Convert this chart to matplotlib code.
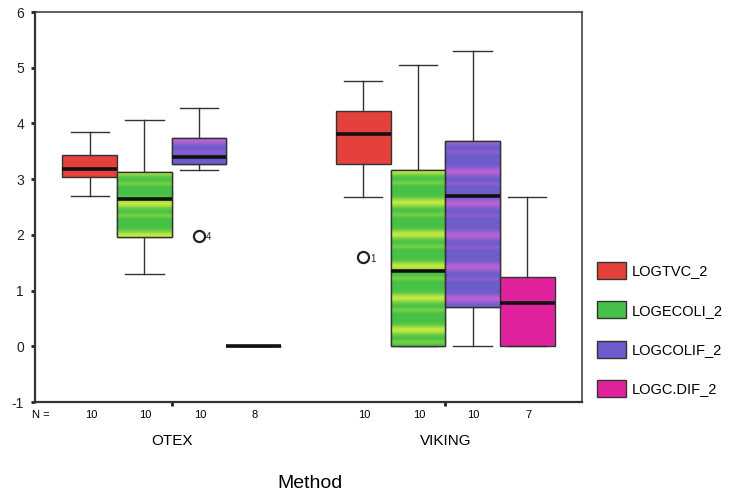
import numpy as np
import matplotlib
matplotlib.use('Agg')
import matplotlib.pyplot as plt
from matplotlib.patches import Patch
from matplotlib.colors import to_rgb

plt.rcParams['font.family'] = ['Liberation Sans', 'DejaVu Sans']
plt.rcParams['axes.unicode_minus'] = False

variables = ['LOGTVC_2', 'LOGECOLI_2', 'LOGCOLIF_2', 'LOGC.DIF_2']
methods = ['OTEX', 'VIKING']
counts = [10, 10, 10, 8, 10, 10, 10, 7]
whislo = [2.70, 1.30, 3.17, 0.0, 2.68, 0.0, 0.0, 0.0]
q1 = [3.04, 1.97, 3.28, 0.0, 3.27, 0.0, 0.71, 0.0]
med = [3.19, 2.65, 3.40, 0.0, 3.81, 1.36, 2.69, 0.78]
q3 = [3.43, 3.12, 3.74, 0.0, 4.22, 3.16, 3.68, 1.24]
whishi = [3.85, 4.07, 4.28, 0.0, 4.76, 5.04, 5.30, 2.68]
outliers = [[], [], [1.98], [], [1.60], [], [], []]
outlier_ids = [[], [], ['4'], [], ['1'], [], [], []]

colors = ['#E4403C', '#46C046', '#6C5CCC', '#E0239C']
stripe_colors = [None, '#D0EE40', '#C064D4', None]

positions = [1, 2, 3, 4, 6, 7, 8, 9]
group_centers = [2.5, 7.5]

fig = plt.figure(figsize=(7.33, 4.92), dpi=100)
ax = fig.add_axes([35 / 733, 1 - 402 / 492, (582 - 35) / 733, (402 - 12) / 492])

stats = []
for i in range(len(positions)):
    stats.append(dict(whislo=whislo[i], q1=q1[i], med=med[i], q3=q3[i],
                      whishi=whishi[i], fliers=outliers[i]))

bp = ax.bxp(stats, positions=positions, widths=1.0, patch_artist=True,
            showfliers=True, capwidths=0.7,
            boxprops=dict(edgecolor='#333333', linewidth=1.0),
            medianprops=dict(color='#111111', linewidth=2.6, solid_capstyle='butt'),
            whiskerprops=dict(color='#333333', linewidth=1.0),
            capprops=dict(color='#333333', linewidth=1.0),
            flierprops=dict(marker='o', markersize=8, markerfacecolor='none',
                            markeredgecolor='#222222', markeredgewidth=1.6))

for i, box in enumerate(bp['boxes']):
    k = i % 4
    box.set_facecolor(colors[k])
    box.set_zorder(2)
    if stripe_colors[k] is not None and q3[i] > q1[i]:
        n = 400
        yy = np.linspace(q1[i], q3[i], n)
        phase = (yy / 0.57) % 1.0
        w = 0.9 * np.exp(-((phase - 0.5) / 0.14) ** 2) + 0.35 * np.exp(-((phase - 0.12) / 0.07) ** 2)
        w = np.clip(w, 0, 1)[:, None]
        base = np.array(to_rgb(colors[k]))
        sc = np.array(to_rgb(stripe_colors[k]))
        img = base[None, :] * (1 - w) + sc[None, :] * w
        img = img[:, None, :]
        im = ax.imshow(img, extent=[positions[i] - 0.5, positions[i] + 0.5, q1[i], q3[i]],
                       origin='lower', aspect='auto', zorder=2.1, interpolation='bilinear')
        im.set_clip_path(box)
        ax.add_patch(plt.Rectangle((positions[i] - 0.5, q1[i]), 1.0, q3[i] - q1[i],
                                   fill=False, edgecolor='#333333', linewidth=1.0, zorder=2.2))
for m in bp['medians']:
    m.set_zorder(3)

for i, ids in enumerate(outlier_ids):
    for v, lab in zip(outliers[i], ids):
        ax.annotate(lab, (positions[i], v), xytext=(5, -1), textcoords='offset points',
                    fontsize=7, va='center', ha='left', color='#222222')

ax.set_xlim(0, 10)
ax.set_ylim(-1, 6)
ax.set_yticks(range(-1, 7))
ax.tick_params(axis='y', length=3, width=2, labelsize=10, pad=5, colors='#222222')
ax.set_xticks(group_centers)
ax.set_xticklabels([])
ax.tick_params(axis='x', length=3, width=2, colors='#222222')
for s in ax.spines.values():
    s.set_color('#333333')
    s.set_linewidth(1.1)
ax.spines['left'].set_linewidth(1.6)
ax.spines['bottom'].set_linewidth(1.6)

# N row
ax.text(-0.05, -0.021, 'N =', transform=ax.get_xaxis_transform(), ha='left', va='top', fontsize=8)
for p, c in zip(positions, counts):
    ax.text(p + 0.02, -0.021, str(c), transform=ax.get_xaxis_transform(), ha='center', va='top', fontsize=8)
for gc, name in zip(group_centers, methods):
    ax.text(gc, -0.083, name, transform=ax.get_xaxis_transform(), ha='center', va='top', fontsize=11)
fig.text(310 / 733, 1 - 483 / 492, 'Method', ha='center', va='center', fontsize=14)

handles = [Patch(facecolor=c, edgecolor='#333333', linewidth=1.0) for c in colors]
fig.legend(handles, variables, loc='upper left', bbox_to_anchor=(591 / 733, 1 - 256 / 492),
           frameon=False, fontsize=10.5, handlelength=2.0, handleheight=1.4,
           handletextpad=0.4, labelspacing=1.55, borderaxespad=0)

fig.savefig('out.png', dpi=100)
